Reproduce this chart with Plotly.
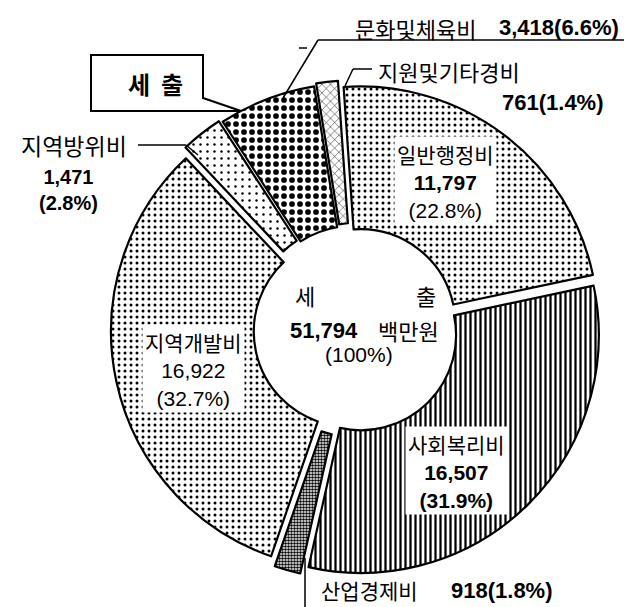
import plotly.graph_objects as go

W, H = 632, 607

# 세출 구성 (백만원)
labels = ["일반행정비", "사회복리비", "산업경제비", "지역개발비", "지역방위비", "문화및체육비", "지원및기타경비"]
values = [11797, 16507, 918, 16922, 1471, 3418, 761]
shares = ["22.8%", "31.9%", "1.8%", "32.7%", "2.8%", "6.6%", "1.4%"]
total = 51794

# styles
patterns = [".", "|", ".", ".", ".", ".", "x"]
pat_size = [6, 5, 3, 6, 7, 8, 6]
pat_solid = [0.2, 0.45, 0.55, 0.2, 0.1, 0.4, 0.15]
pulls = [0.03, 0.03, 0.05, 0.03, 0.05, 0.04, 0.05]

KR = "Noto Sans CJK KR"
NUM = "Liberation Sans, Arial"


def px(x):
    return x / W


def py(y):
    return 1 - y / H


fig = go.Figure()
fig.add_trace(
    go.Pie(
        labels=labels,
        values=values,
        sort=False,
        direction="clockwise",
        rotation=-4,
        hole=0.40,
        pull=pulls,
        textinfo="none",
        hoverinfo="label+value",
        showlegend=False,
        domain=dict(x=[0.155, 0.946], y=[0.058, 0.881]),
        marker=dict(
            colors=["white"] * len(values),
            line=dict(color="black", width=2.2),
            pattern=dict(
                shape=patterns,
                size=pat_size,
                solidity=pat_solid,
                fgcolor="black",
                bgcolor="white",
                fillmode="replace",
            ),
        ),
    )
)

ann = []


def add_text(text, x, y, size=22, font=KR, anchor="center", bold=False, bg=None):
    if bold:
        text = "<b>" + text + "</b>"
    d = dict(
        text=text, x=px(x), y=py(y), xref="paper", yref="paper",
        xanchor=anchor, yanchor="middle", showarrow=False, align="center",
        font=dict(family=font, size=size, color="black"),
    )
    if bg:
        d.update(bgcolor=bg, borderpad=2)
    ann.append(d)


def kr(t):
    return f'<span style="font-family:{KR}">{t}</span>'


def num(i):
    return f"{values[i]:,}"


# inside labels
add_text(f"{kr(labels[0])}<br><b>{num(0)}</b><br>({shares[0]})", 437, 172, 21, NUM, bg="white")
add_text(f"{kr(labels[1])}<br><b>{num(1)}</b><br><b>({shares[1]})</b>", 448, 462, 21, NUM, bg="white")
add_text(f"{kr(labels[3])}<br>{num(3)}<br>({shares[3]})", 185, 360, 21, NUM, bg="white")

# outside labels
add_text(labels[4], 66, 137, 23)
add_text(f"<b>{num(4)}<br>({shares[4]})</b>", 60, 182, 20, NUM)

add_text(labels[5], 345, 20, anchor="left")
add_text(f"{num(5)}({shares[5]})", 613, 20, 22, NUM, anchor="right", bold=True)

add_text(labels[6], 368, 63, anchor="left")
add_text(f"{values[6]}({shares[6]})", 598, 94, 22, NUM, anchor="right", bold=True)

add_text(labels[2], 311, 582, 21, anchor="left")
add_text(f"{values[2]}({shares[2]})", 547, 582, 22, NUM, anchor="right", bold=True)

# centre
add_text("세", 297, 287)
add_text("출", 418, 287)
add_text(f"{total:,}", 316, 322, 22, NUM, bold=True)
add_text("백만원", 400, 322)
add_text("(100%)", 351, 346, 21, NUM)

# title box
add_text("세  출", 147, 75, 24, KR, bold=True)

shapes = []


def seg(x0, y0, x1, y1, w=1.5):
    shapes.append(dict(type="line", xref="paper", yref="paper",
                       x0=px(x0), y0=py(y0), x1=px(x1), y1=py(y1),
                       line=dict(color="black", width=w)))


seg(310, 32, 617, 32)
seg(310, 32, 275, 90)
seg(291, 40, 299, 40)
seg(345, 61, 364, 61)
seg(345, 61, 337, 78)
seg(130, 137, 178, 137)
seg(178, 137, 190, 147)
seg(297, 550, 297, 603)
seg(297, 603, 547, 603)

box = [(83, 47), (195, 47), (195, 90), (233, 103), (83, 103)]
path = "M " + " L ".join(f"{px(x)},{py(y)}" for x, y in box) + " Z"
shapes.append(dict(type="path", xref="paper", yref="paper", path=path,
                   line=dict(color="black", width=2), fillcolor="white", layer="below"))

fig.update_layout(
    width=W,
    height=H,
    margin=dict(l=0, r=0, t=0, b=0),
    paper_bgcolor="white",
    plot_bgcolor="white",
    annotations=ann,
    shapes=shapes,
)

fig.write_html("out.html")
